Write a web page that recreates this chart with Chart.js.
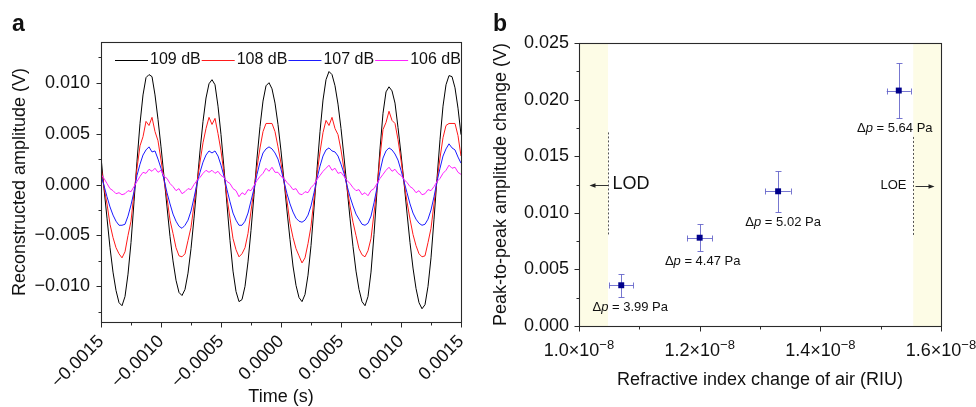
<!DOCTYPE html>
<html><head><meta charset="utf-8">
<script src="https://cdn.jsdelivr.net/npm/chart.js@4.4.1/dist/chart.umd.min.js"></script>
<style>
html,body{margin:0;padding:0;background:#fff;}
#wrap{position:relative;width:976px;height:407px;overflow:hidden;background:#fff;}
canvas{position:absolute;top:0;}
#ca{left:0;width:470px;height:407px;}
#cb{left:470px;width:506px;height:407px;}
</style></head><body>
<div id="wrap"><canvas id="ca" width="470" height="407"></canvas><canvas id="cb" width="506" height="407"></canvas></div>
<script>
// ---------- Panel a data ----------
const time = [
-0.0015,-0.001475,-0.00145,-0.001425,-0.0014,-0.001375,-0.00135,-0.001325,-0.0013,-0.001275,
-0.00125,-0.001225,-0.0012,-0.001175,-0.00115,-0.001125,-0.0011,-0.001075,-0.00105,-0.001025,
-0.001,-0.000975,-0.00095,-0.000925,-0.0009,-0.000875,-0.00085,-0.000825,-0.0008,-0.000775,
-0.00075,-0.000725,-0.0007,-0.000675,-0.00065,-0.000625,-0.0006,-0.000575,-0.00055,-0.000525,
-0.0005,-0.000475,-0.00045,-0.000425,-0.0004,-0.000375,-0.00035,-0.000325,-0.0003,-0.000275,
-0.00025,-0.000225,-0.0002,-0.000175,-0.00015,-0.000125,-0.0001,-0.000075,-0.00005,-0.000025,
0,0.000025,0.00005,0.000075,0.0001,0.000125,0.00015,0.000175,0.0002,0.000225,
0.00025,0.000275,0.0003,0.000325,0.00035,0.000375,0.0004,0.000425,0.00045,0.000475,
0.0005,0.000525,0.00055,0.000575,0.0006,0.000625,0.00065,0.000675,0.0007,0.000725,
0.00075,0.000775,0.0008,0.000825,0.00085,0.000875,0.0009,0.000925,0.00095,0.000975,
0.001,0.001025,0.00105,0.001075,0.0011,0.001125,0.00115,0.001175,0.0012,0.001225,
0.00125,0.001275,0.0013,0.001325,0.00135,0.001375,0.0014,0.001425,0.00145,0.001475,
0.0015];
const amp109 = [
0.0027,-0.0004,-0.0033,-0.0062,-0.0086,-0.0104,-0.0116,-0.0119,-0.0110,-0.0088,
-0.0057,-0.0017,0.0023,0.0060,0.0088,0.0105,0.0108,0.0106,0.0088,0.0064,
0.0037,0.0008,-0.0022,-0.0051,-0.0075,-0.0094,-0.0106,-0.0109,-0.0103,-0.0087,
-0.0063,-0.0033,0.0000,0.0033,0.0062,0.0085,0.0099,0.0103,0.0098,0.0077,
0.0049,0.0016,-0.0020,-0.0055,-0.0085,-0.0105,-0.0115,-0.0113,-0.0100,-0.0076,
-0.0045,-0.0010,0.0026,0.0057,0.0082,0.0097,0.0100,0.0094,0.0080,0.0059,
0.0033,0.0004,-0.0026,-0.0054,-0.0080,-0.0099,-0.0111,-0.0115,-0.0108,-0.0089,
-0.0060,-0.0023,0.0015,0.0052,0.0083,0.0103,0.0111,0.0108,0.0097,0.0079,
0.0055,0.0027,-0.0003,-0.0033,-0.0061,-0.0085,-0.0103,-0.0115,-0.0119,-0.0110,
-0.0086,-0.0049,-0.0006,0.0035,0.0070,0.0091,0.0096,0.0092,0.0080,0.0056,
0.0030,0.0002,-0.0028,-0.0057,-0.0082,-0.0102,-0.0116,-0.0122,-0.0118,-0.0100,
-0.0072,-0.0034,0.0006,0.0044,0.0077,0.0098,0.0107,0.0106,0.0095,0.0075,
0.0049];
const amp108 = [
0.0018,-0.0003,-0.0019,-0.0039,-0.0052,-0.0062,-0.0068,-0.0072,-0.0066,-0.0050,
-0.0036,-0.0008,0.0016,0.0038,0.0047,0.0062,0.0058,0.0066,0.0052,0.0043,
0.0024,0.0004,-0.0013,-0.0035,-0.0048,-0.0062,-0.0070,-0.0071,-0.0068,-0.0055,
-0.0042,-0.0020,0.0002,0.0022,0.0041,0.0055,0.0066,0.0059,0.0065,0.0050,
0.0033,0.0011,-0.0013,-0.0033,-0.0053,-0.0064,-0.0071,-0.0068,-0.0062,-0.0048,
-0.0026,-0.0005,0.0017,0.0036,0.0052,0.0060,0.0060,0.0060,0.0052,0.0037,
0.0021,0.0003,-0.0016,-0.0038,-0.0052,-0.0063,-0.0070,-0.0077,-0.0072,-0.0058,
-0.0041,-0.0014,0.0010,0.0032,0.0051,0.0063,0.0058,0.0066,0.0055,0.0049,
0.0034,0.0015,-0.0003,-0.0021,-0.0037,-0.0050,-0.0063,-0.0069,-0.0071,-0.0065,
-0.0053,-0.0028,-0.0004,0.0027,0.0054,0.0061,0.0072,0.0063,0.0060,0.0044,
0.0024,0.0002,-0.0017,-0.0034,-0.0049,-0.0060,-0.0068,-0.0071,-0.0070,-0.0057,
-0.0043,-0.0019,0.0004,0.0026,0.0046,0.0058,0.0060,0.0060,0.0060,0.0048,
0.0028];
const amp107 = [
0.0009,-0.0001,-0.0012,-0.0022,-0.0030,-0.0036,-0.0040,-0.0040,-0.0039,-0.0031,
-0.0020,-0.0007,0.0009,0.0020,0.0029,0.0034,0.0037,0.0032,0.0033,0.0025,
0.0016,0.0005,-0.0008,-0.0019,-0.0029,-0.0036,-0.0041,-0.0043,-0.0040,-0.0035,
-0.0026,-0.0013,0.0001,0.0012,0.0022,0.0029,0.0033,0.0031,0.0033,0.0028,
0.0019,0.0008,-0.0005,-0.0017,-0.0028,-0.0035,-0.0040,-0.0040,-0.0036,-0.0028,
-0.0016,-0.0004,0.0010,0.0022,0.0031,0.0035,0.0037,0.0035,0.0031,0.0025,
0.0015,0.0003,-0.0009,-0.0019,-0.0027,-0.0033,-0.0036,-0.0037,-0.0035,-0.0030,
-0.0021,-0.0008,0.0006,0.0018,0.0028,0.0034,0.0036,0.0033,0.0032,0.0028,
0.0020,0.0011,-0.0001,-0.0012,-0.0021,-0.0029,-0.0034,-0.0039,-0.0040,-0.0038,
-0.0031,-0.0018,-0.0003,0.0013,0.0026,0.0033,0.0036,0.0034,0.0030,0.0024,
0.0014,0.0003,-0.0008,-0.0019,-0.0028,-0.0034,-0.0038,-0.0040,-0.0039,-0.0034,
-0.0025,-0.0012,0.0003,0.0016,0.0028,0.0035,0.0040,0.0036,0.0034,0.0027,
0.0021];
const amp106 = [
0.0010,0.0006,0.0001,-0.0004,-0.0006,-0.0009,-0.0008,-0.0010,-0.0009,-0.0006,
-0.0007,-0.0002,0.0003,0.0008,0.0012,0.0011,0.0015,0.0013,0.0016,0.0012,
0.0014,0.0008,0.0006,0.0001,-0.0002,-0.0006,-0.0004,-0.0009,-0.0007,-0.0004,
-0.0005,0.0000,0.0004,0.0007,0.0011,0.0014,0.0012,0.0014,0.0011,0.0013,
0.0009,0.0007,0.0003,0.0001,-0.0004,-0.0006,-0.0012,-0.0008,-0.0010,-0.0005,
-0.0006,-0.0001,0.0004,0.0008,0.0011,0.0016,0.0013,0.0017,0.0012,0.0012,
0.0008,0.0006,0.0002,-0.0001,-0.0005,-0.0004,-0.0009,-0.0010,-0.0007,-0.0008,
-0.0003,0.0000,0.0005,0.0009,0.0013,0.0016,0.0019,0.0014,0.0016,0.0011,
0.0012,0.0008,0.0004,0.0001,-0.0003,-0.0006,-0.0005,-0.0010,-0.0008,-0.0011,
-0.0006,-0.0004,0.0001,0.0006,0.0010,0.0014,0.0017,0.0013,0.0015,0.0011,
0.0009,0.0005,0.0002,-0.0002,-0.0004,-0.0008,-0.0006,-0.0010,-0.0009,-0.0005,
-0.0006,-0.0002,0.0003,0.0006,0.0011,0.0014,0.0019,0.0016,0.0017,0.0012,
0.0010];
const seriesLabels = ['109 dB','108 dB','107 dB','106 dB'];
const timeTicks = [-0.0015,-0.001,-0.0005,0,0.0005,0.001,0.0015];
const timeTickLabels = ['\u22120.0015','\u22120.0010','\u22120.0005','0.0000','0.0005','0.0010','0.0015'];
const timeMinor = [-0.00125,-0.00075,-0.00025,0.00025,0.00075,0.00125];
const ampTicks = [-0.01,-0.005,0,0.005,0.01];
const ampTickLabels = ['\u22120.010','\u22120.005','0.000','0.005','0.010'];
const ampMinor = [-0.0125,-0.0075,-0.0025,0.0025,0.0075,0.0125];

// ---------- Panel b data ----------
const riu = [1.07e-8,1.20e-8,1.33e-8,1.53e-8];
const riuErr = [2.0e-10,2.1e-10,2.1e-10,2.0e-10];
const ppAmp = [0.0036,0.0078,0.0119,0.0208];
const ppAmpErr = [0.0010,0.0012,0.0018,0.0024];
const pressurePa = [3.99,4.47,5.02,5.64];
const riuTicks = [1.0e-8,1.2e-8,1.4e-8,1.6e-8];
const riuTickBases = ['1.0\u00d710','1.2\u00d710','1.4\u00d710','1.6\u00d710'];
const riuTickExp = '\u22128';
const riuMinor = [1.1e-8,1.3e-8,1.5e-8];
const ppTicks = [0,0.005,0.01,0.015,0.02,0.025];
const ppTickLabels = ['0.000','0.005','0.010','0.015','0.020','0.025'];
const ppMinor = [0.0025,0.0075,0.0125,0.0175,0.0225];
const lodRIU = 1.048e-8;
const loeRIU = 1.554e-8;
const lodLine = [0.0080,0.0171];
const loeLine = [0.0080,0.0167];
const limitLabelAmp = 0.0125;

const FONT = '"Liberation Sans", Arial, Helvetica, sans-serif';
const INK = '#111';
const AXIS = '#2a2a2a';

function drawFrameTicks(chart, xMaj, xMin, yMaj, yMin){
  const ctx = chart.ctx, a = chart.chartArea, sx = chart.scales.x, sy = chart.scales.y;
  ctx.save();
  ctx.strokeStyle = AXIS; ctx.lineWidth = 1.1;
  const L = Math.round(a.left)+0.5, R = Math.round(a.right)+0.5, T = Math.round(a.top)+0.5, B = Math.round(a.bottom)+0.5;
  ctx.strokeRect(L, T, R-L, B-T);
  ctx.lineWidth = 1;
  ctx.beginPath();
  xMaj.forEach(v=>{const p=Math.round(sx.getPixelForValue(v))+0.5; ctx.moveTo(p,B); ctx.lineTo(p,B+5);});
  xMin.forEach(v=>{const p=Math.round(sx.getPixelForValue(v))+0.5; ctx.moveTo(p,B); ctx.lineTo(p,B+3);});
  yMaj.forEach(v=>{const p=Math.round(sy.getPixelForValue(v))+0.5; ctx.moveTo(L,p); ctx.lineTo(L-5,p);});
  yMin.forEach(v=>{const p=Math.round(sy.getPixelForValue(v))+0.5; ctx.moveTo(L,p); ctx.lineTo(L-3,p);});
  ctx.stroke();
  ctx.restore();
}

const decorA = {
  id:'decorA',
  afterDraw(chart){
    const ctx = chart.ctx, a = chart.chartArea;
    drawFrameTicks(chart, timeTicks, timeMinor, ampTicks, ampMinor);
    ctx.save();
    let lx = a.left + 14; const ly = a.top + 18;
    ctx.font = '16px ' + FONT; ctx.textBaseline = 'middle'; ctx.textAlign = 'left';
    chart.data.datasets.forEach(ds=>{
      ctx.strokeStyle = ds.borderColor; ctx.lineWidth = 1;
      ctx.beginPath(); ctx.moveTo(lx, ly+0.5); ctx.lineTo(lx+33, ly+0.5); ctx.stroke();
      lx += 35;
      ctx.fillStyle = INK; ctx.fillText(ds.label, lx, ly);
      lx += ctx.measureText(ds.label).width + 1;
    });
    ctx.font = 'bold 23px ' + FONT; ctx.textBaseline = 'alphabetic';
    ctx.fillText('a', 12, 31);
    ctx.restore();
  }
};

new Chart(document.getElementById('ca'), {
  type:'line',
  data:{datasets:[
    {label:seriesLabels[0], data:time.map((t,i)=>({x:t,y:amp109[i]})), borderColor:'#000000', order:4},
    {label:seriesLabels[1], data:time.map((t,i)=>({x:t,y:amp108[i]})), borderColor:'#ff1a1a', order:3},
    {label:seriesLabels[2], data:time.map((t,i)=>({x:t,y:amp107[i]})), borderColor:'#1a1aff', order:2},
    {label:seriesLabels[3], data:time.map((t,i)=>({x:t,y:amp106[i]})), borderColor:'#ff22ff', order:1}
  ]},
  options:{
    responsive:false, animation:false, devicePixelRatio:1,
    layout:{padding:{left:0,right:9,top:42,bottom:0}},
    elements:{point:{radius:0}, line:{borderWidth:1, tension:0}},
    plugins:{legend:{display:false}, tooltip:{enabled:false}},
    scales:{
      x:{type:'linear', min:-0.0015, max:0.0015,
        afterBuildTicks:s=>{ s.ticks = timeTicks.map(v=>({value:v})); },
        afterFit:s=>{ s.height = 85; s.paddingLeft = 0; s.paddingRight = 0; },
        grid:{display:false, drawTicks:false}, border:{display:false},
        ticks:{autoSkip:false, minRotation:45, maxRotation:45, padding:9, color:INK,
          font:{family:FONT,size:18}, callback:(v,i)=>timeTickLabels[i]},
        title:{display:true, text:'Time (s)', color:INK, font:{family:FONT,size:18,lineHeight:1.1}, padding:{top:0,bottom:0}}
      },
      y:{type:'linear', min:-0.0135, max:0.014,
        afterBuildTicks:s=>{ s.ticks = ampTicks.map(v=>({value:v})); },
        afterFit:s=>{ s.width = 101; s.paddingTop = 0; s.paddingBottom = 0; },
        grid:{display:false, drawTicks:false}, border:{display:false},
        ticks:{autoSkip:false, padding:11, color:INK, font:{family:FONT,size:18}, callback:(v,i)=>ampTickLabels[i]},
        title:{display:true, text:'Reconstructed amplitude (V)', color:INK, font:{family:FONT,size:18,lineHeight:1.1}, padding:{top:10,bottom:0}}
      }
    }
  },
  plugins:[decorA]
});

const decorB = {
  id:'decorB',
  beforeDatasetsDraw(chart){
    const ctx = chart.ctx, a = chart.chartArea, sx = chart.scales.x, sy = chart.scales.y;
    ctx.save();
    ctx.fillStyle = '#fdfce6';
    const xl = sx.getPixelForValue(lodRIU), xr = sx.getPixelForValue(loeRIU);
    ctx.fillRect(a.left, a.top, xl - a.left, a.bottom - a.top);
    ctx.fillRect(xr, a.top, a.right - xr, a.bottom - a.top);
    ctx.strokeStyle = '#555'; ctx.lineWidth = 1; ctx.setLineDash([2,2]);
    ctx.beginPath();
    const xlp = Math.round(xl)+0.5, xrp = Math.round(xr)+0.5;
    ctx.moveTo(xlp, sy.getPixelForValue(lodLine[1])); ctx.lineTo(xlp, sy.getPixelForValue(lodLine[0]));
    ctx.moveTo(xrp, sy.getPixelForValue(loeLine[1])); ctx.lineTo(xrp, sy.getPixelForValue(loeLine[0]));
    ctx.stroke();
    ctx.setLineDash([]);
    ctx.strokeStyle = 'rgba(95,95,200,0.85)'; ctx.lineWidth = 1;
    ctx.beginPath();
    riu.forEach((v,i)=>{
      const px = Math.round(sx.getPixelForValue(v))+0.5, py = Math.round(sy.getPixelForValue(ppAmp[i]))+0.5;
      const x1 = sx.getPixelForValue(v - riuErr[i]), x2 = sx.getPixelForValue(v + riuErr[i]);
      const y1 = Math.round(sy.getPixelForValue(ppAmp[i] + ppAmpErr[i]))+0.5, y2 = Math.round(sy.getPixelForValue(ppAmp[i] - ppAmpErr[i]))+0.5;
      ctx.moveTo(x1, py); ctx.lineTo(x2, py);
      ctx.moveTo(Math.round(x1)+0.5, py-3); ctx.lineTo(Math.round(x1)+0.5, py+3);
      ctx.moveTo(Math.round(x2)+0.5, py-3); ctx.lineTo(Math.round(x2)+0.5, py+3);
      ctx.moveTo(px, y1); ctx.lineTo(px, y2);
      ctx.moveTo(px-3, y1); ctx.lineTo(px+3, y1);
      ctx.moveTo(px-3, y2); ctx.lineTo(px+3, y2);
    });
    ctx.stroke();
    ctx.restore();
  },
  afterDraw(chart){
    const ctx = chart.ctx, a = chart.chartArea, sx = chart.scales.x, sy = chart.scales.y;
    drawFrameTicks(chart, riuTicks, riuMinor, ppTicks, ppMinor);
    ctx.save();
    ctx.fillStyle = INK;
    riuTicks.forEach((v,i)=>{
      const px = sx.getPixelForValue(v);
      ctx.font = '18px ' + FONT; const bw = ctx.measureText(riuTickBases[i]).width;
      ctx.font = '13px ' + FONT; const ew = ctx.measureText(riuTickExp).width;
      const x0 = px - (bw + ew)/2;
      ctx.textAlign = 'left'; ctx.textBaseline = 'alphabetic';
      ctx.font = '18px ' + FONT; ctx.fillText(riuTickBases[i], x0, a.bottom + 30);
      ctx.font = '13px ' + FONT; ctx.fillText(riuTickExp, x0 + bw, a.bottom + 23);
    });
    const annDx = [9, 3, 5, -4];
    ctx.textBaseline = 'middle'; ctx.textAlign = 'left';
    riu.forEach((v,i)=>{
      const cx = sx.getPixelForValue(v) + annDx[i];
      const cy = sy.getPixelForValue(ppAmp[i] - ppAmpErr[i]) + 10.5;
      const parts = [['\u0394','13px '],['p','italic 13px '],[' = ' + pressurePa[i].toFixed(2) + ' Pa','13px ']];
      let w = 0;
      parts.forEach(p=>{ ctx.font = p[1] + FONT; w += ctx.measureText(p[0]).width; });
      let x0 = cx - w/2;
      parts.forEach(p=>{ ctx.font = p[1] + FONT; ctx.fillText(p[0], x0, cy); x0 += ctx.measureText(p[0]).width; });
    });
    const yL = sy.getPixelForValue(limitLabelAmp);
    const xl = Math.round(sx.getPixelForValue(lodRIU)) + 0.5, xr = Math.round(sx.getPixelForValue(loeRIU)) + 0.5;
    ctx.font = '18px ' + FONT; ctx.textAlign = 'left';
    ctx.fillText('LOD', xl + 4, yL);
    ctx.font = '13px ' + FONT; ctx.textAlign = 'right';
    ctx.fillText('LOE', xr - 7, yL + 1);
    ctx.strokeStyle = '#333'; ctx.fillStyle = '#222'; ctx.lineWidth = 1;
    const ya = Math.round(yL) + 0.5, yb = Math.round(yL + 1) + 0.5;
    ctx.beginPath(); ctx.moveTo(xl, ya); ctx.lineTo(xl - 14, ya); ctx.moveTo(xr + 2, yb); ctx.lineTo(xr + 16, yb); ctx.stroke();
    ctx.beginPath(); ctx.moveTo(xl - 19, ya); ctx.lineTo(xl - 13, ya - 2.2); ctx.lineTo(xl - 13, ya + 2.2); ctx.closePath(); ctx.fill();
    ctx.beginPath(); ctx.moveTo(xr + 21, yb); ctx.lineTo(xr + 15, yb - 2.2); ctx.lineTo(xr + 15, yb + 2.2); ctx.closePath(); ctx.fill();
    ctx.fillStyle = INK; ctx.font = 'bold 23px ' + FONT; ctx.textAlign = 'left'; ctx.textBaseline = 'alphabetic';
    ctx.fillText('b', 23, 31);
    ctx.restore();
  }
};

new Chart(document.getElementById('cb'), {
  type:'scatter',
  data:{datasets:[{label:'Peak-to-peak amplitude change',
    data:riu.map((x,i)=>({x:x, y:ppAmp[i]})),
    pointStyle:'rect', pointRadius:4.2, backgroundColor:'#00008b', borderColor:'#00008b', borderWidth:0}]},
  options:{
    responsive:false, animation:false, devicePixelRatio:1,
    layout:{padding:{left:0,right:35,top:43,bottom:0}},
    plugins:{legend:{display:false}, tooltip:{enabled:false}},
    scales:{
      x:{type:'linear', min:1.0e-8, max:1.6e-8,
        afterBuildTicks:s=>{ s.ticks = riuTicks.map(v=>({value:v})); },
        afterFit:s=>{ s.height = 81; s.paddingLeft = 0; s.paddingRight = 0; },
        grid:{display:false, drawTicks:false}, border:{display:false},
        ticks:{display:false},
        title:{display:true, text:'Refractive index change of air (RIU)', color:INK, font:{family:FONT,size:18,lineHeight:1.1}, padding:{top:0,bottom:17}}
      },
      y:{type:'linear', min:0, max:0.025,
        afterBuildTicks:s=>{ s.ticks = ppTicks.map(v=>({value:v})); },
        afterFit:s=>{ s.width = 109; s.paddingTop = 0; s.paddingBottom = 0; },
        grid:{display:false, drawTicks:false}, border:{display:false},
        ticks:{autoSkip:false, padding:10, color:INK, font:{family:FONT,size:18}, callback:(v,i)=>ppTickLabels[i]},
        title:{display:true, text:'Peak-to-peak amplitude change (V)', color:INK, font:{family:FONT,size:18,lineHeight:1.1}, padding:{top:21,bottom:0}}
      }
    }
  },
  plugins:[decorB]
});
</script>
</body></html>
